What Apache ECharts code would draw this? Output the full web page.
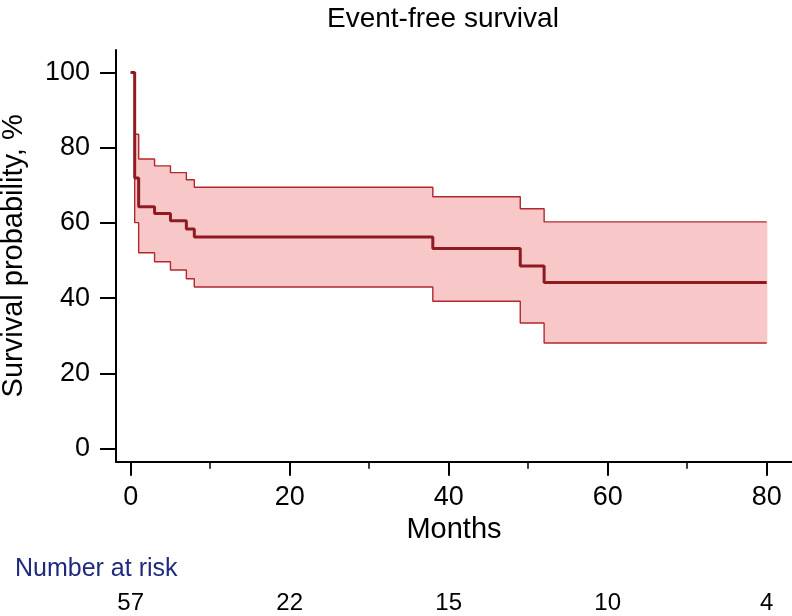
<!DOCTYPE html>
<html>
<head>
<meta charset="utf-8">
<script src="https://cdn.jsdelivr.net/npm/echarts@6/dist/echarts.min.js"></script>
<style>
html,body{margin:0;padding:0;background:#fff;}
#chart{width:792px;height:616px;}
</style>
</head>
<body>
<div id="chart"></div>
<script>
// ---- data ----
const times    = [0, 0.5, 1, 3, 5, 7, 8, 38, 49, 52, 80];
const survival = [100, 72, 64.3, 62.5, 60.6, 58.4, 56.3, 53.2, 48.6, 44.2, 44.2];
const upperCI  = [100, 83.6, 77, 75.2, 73.4, 71.5, 69.5, 67, 63.8, 60.3, 60.3];
const lowerCI  = [100, 60.1, 52.1, 49.7, 47.5, 45.2, 43, 39.2, 33.4, 28.1, 28.1];
const xTicks = [0, 20, 40, 60, 80];
const xMinorTicks = [10, 30, 50, 70];
const yTicks = [0, 20, 40, 60, 80, 100];
const riskTimes  = [0, 20, 40, 60, 80];
const riskCounts = [57, 22, 15, 10, 4];

const FONT = 'Liberation Sans, Arial, Helvetica, sans-serif';
const pair = (xs, ys) => xs.map((x, i) => [x, ys[i]]);
// one band segment per step interval: [tStart, tEnd, lower, upper]
const bandSegments = times.slice(0, -1).map((t, i) => [t, times[i + 1], lowerCI[i], upperCI[i]]);

const X_MIN = -1.85, X_MAX = 83.18;

const chart = echarts.init(document.getElementById('chart'), null, {renderer: 'canvas'});
chart.setOption({
  animation: false,
  backgroundColor: '#fff',
  title: {
    text: 'Event-free survival',
    left: 322, top: 0,
    textStyle: {fontFamily: FONT, fontSize: 28, fontWeight: 'normal', color: '#000'}
  },
  graphic: [{
    type: 'text', left: 15, top: 557,
    style: {text: 'Number at risk', fontFamily: FONT, fontSize: 25, fill: '#1f2a7e'}
  }],
  grid: {left: 116, right: 0, top: 50, bottom: 154.3, containLabel: false, outerBoundsMode: 'none'},
  xAxis: [{
    type: 'value', min: X_MIN, max: X_MAX, position: 'bottom',
    axisLine: {show: true, onZero: false, lineStyle: {color: '#000', width: 2}},
    axisTick: {show: true, customValues: xTicks, length: 14, lineStyle: {color: '#000', width: 2}},
    axisLabel: {customValues: xTicks, fontFamily: FONT, fontSize: 27, color: '#000', margin: 22},
    splitLine: {show: false},
    name: 'Months', nameLocation: 'middle', nameGap: 52,
    nameTextStyle: {fontFamily: FONT, fontSize: 29, color: '#000'}
  }, {
    type: 'value', min: X_MIN, max: X_MAX, position: 'bottom', offset: 0,
    axisLine: {show: false, onZero: false},
    axisTick: {show: true, customValues: xMinorTicks, length: 7, lineStyle: {color: '#000', width: 1.5}},
    axisLabel: {show: false},
    splitLine: {show: false}
  }, {
    type: 'value', min: X_MIN, max: X_MAX, position: 'bottom', offset: 0,
    axisLine: {show: false, onZero: false},
    axisTick: {show: false},
    axisLabel: {
      customValues: riskTimes, fontFamily: FONT, fontSize: 24, color: '#000', margin: 130,
      formatter: v => String(riskCounts[riskTimes.indexOf(v)])
    },
    splitLine: {show: false}
  }],
  yAxis: {
    type: 'value', min: -3.46, max: 106,
    axisLine: {show: true, onZero: false, lineStyle: {color: '#000', width: 2}},
    axisTick: {show: true, customValues: yTicks, length: 16, lineStyle: {color: '#000', width: 2}},
    axisLabel: {customValues: yTicks, fontFamily: FONT, fontSize: 27, color: '#000', margin: 26},
    splitLine: {show: false},
    name: 'Survival probability, %', nameLocation: 'middle', nameGap: 88,
    nameTextStyle: {fontFamily: FONT, fontSize: 29, color: '#000'}
  },
  series: [{
    name: 'band', type: 'custom', silent: true, z: 1,
    data: bandSegments,
    encode: {x: [0, 1], y: [2, 3]},
    renderItem: function (params, api) {
      const p0 = api.coord([api.value(0), api.value(3)]);
      const p1 = api.coord([api.value(1), api.value(2)]);
      return {
        type: 'rect',
        shape: {x: p0[0], y: p0[1], width: p1[0] - p0[0] + 0.6, height: p1[1] - p0[1]},
        style: {fill: '#f8c8c8'}
      };
    }
  }, {
    name: 'upper', type: 'line', step: 'end', symbol: 'none', silent: true,
    data: pair(times, upperCI), lineStyle: {color: '#b3282d', width: 1.4}, z: 2
  }, {
    name: 'lower', type: 'line', step: 'end', symbol: 'none', silent: true,
    data: pair(times, lowerCI), lineStyle: {color: '#b3282d', width: 1.4}, z: 2
  }, {
    name: 'survival', type: 'line', step: 'end', symbol: 'none', silent: true,
    data: pair(times, survival), lineStyle: {color: '#8e1a22', width: 3}, z: 3
  }]
});
</script>
</body>
</html>
